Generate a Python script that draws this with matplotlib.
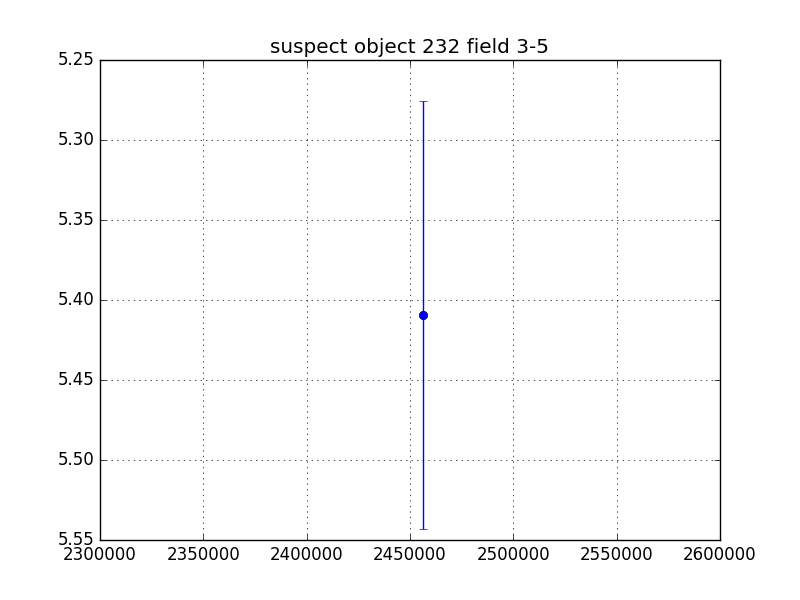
import matplotlib
matplotlib.use('Agg')
import matplotlib.pyplot as plt

# observation time (JD-like) and magnitude with error
times = [2456435]
mags = [5.4093]
mag_errs = [0.1338]

x_ticks = [2300000, 2350000, 2400000, 2450000, 2500000, 2550000, 2600000]
y_ticks = [5.25, 5.30, 5.35, 5.40, 5.45, 5.50, 5.55]


def main():
    plt.style.use('classic')
    fig = plt.figure(figsize=(8, 6), dpi=100)
    ax = fig.add_subplot(111)

    ax.errorbar(times, mags, yerr=mag_errs, fmt='o', color='b', ecolor='b', capsize=3)

    ax.set_xlim(2300000, 2600000)
    ax.set_ylim(5.55, 5.25)
    ax.set_xticks(x_ticks)
    ax.set_yticks(y_ticks)
    ax.set_xticklabels([str(t) for t in x_ticks])
    ax.set_yticklabels(["%.2f" % t for t in y_ticks])
    ax.grid(True)
    ax.set_title("suspect object 232 field 3-5")

    fig.savefig("out.png", dpi=100)


if __name__ == "__main__":
    main()
